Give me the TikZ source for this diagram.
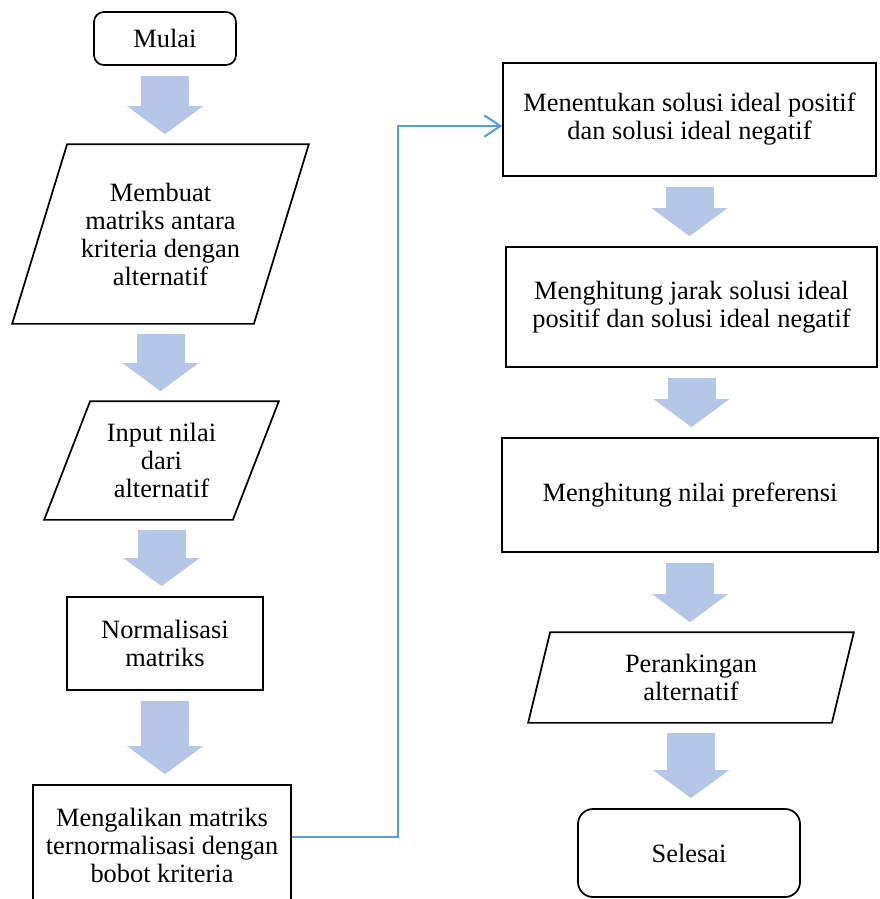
\documentclass[tikz,border=0pt]{standalone}
\usepackage{fontspec}
\setmainfont{Liberation Serif}
\usepackage{tikz}
\usetikzlibrary{positioning}
\usetikzlibrary{arrows.meta,calc}
\definecolor{arrowblue}{RGB}{180,199,231}
\definecolor{linkblue}{RGB}{91,155,213}
\newcommand{\boxfont}[1]{\fontsize{19.8}{#1}\selectfont\setlength{\lineskiplimit}{-20pt}\relax}
\tikzstyle{box}=[draw,line width=1.3pt,align=center,inner sep=0pt,font=\boxfont{21pt}]
\tikzstyle{terminal}=[box,rounded corners=7.5pt]
\tikzstyle{iobox}=[box,draw=none]
\tikzstyle{outline}=[draw,line width=1.3pt,line join=miter]
\tikzstyle{flow}=[draw=arrowblue,line width=36pt,shorten <=7.5pt,shorten >=7.5pt,-{Triangle[width=57pt,length=21pt,line width=0pt]}]
\tikzstyle{link} = [draw=linkblue,line width=1.5pt,-{Straight Barb[length=12pt,width=16pt,line width=1.5pt]}]

\begin{document}
\begin{tikzpicture}[x=0.75pt,y=-0.75pt]
    \useasboundingbox (0,0) rectangle (880,899);

    % kolom kiri
    \node[terminal,minimum width=106.5pt,minimum height=39.75pt] (mulai) at (165,38.5) {Mulai};
    \node[iobox,minimum width=221.25pt,minimum height=133.5pt] (buat) at (160.5,234)
        {Membuat\\ matriks antara\\ kriteria dengan\\ alternatif};
    \node[iobox,minimum width=174.75pt,minimum height=87.75pt] (input) at (161.5,460.5) {Input nilai\\ dari\\ alternatif};
    \node[box,minimum width=147pt,minimum height=69.75pt] (norm) at (165,643.5) {Normalisasi\\ matriks};
    \node[box,minimum width=193.5pt,minimum height=90pt] (kali) at (162,845)
        {Mengalikan matriks\\ ternormalisasi dengan\\ bobot kriteria};

    % kolom kanan
    \node[box,minimum width=279.75pt,minimum height=84.75pt] (tentu) at (689.5,119.5)
        {Menentukan solusi ideal positif\\ dan solusi ideal negatif};
    \node[box,minimum width=278.25pt,minimum height=90pt] (jarak) at (691.5,307)
        {Menghitung jarak solusi ideal\\ positif dan solusi ideal negatif};
    \node[box,minimum width=282pt,minimum height=85.5pt] (pref) at (690,495) {Menghitung nilai preferensi};
    \node[iobox,minimum width=243pt,minimum height=66.75pt] (rank) at (691,677.5) {Perankingan\\ alternatif};
    \node[terminal,rounded corners=11.25pt,minimum width=166.5pt,minimum height=66pt] (selesai) at (689,853) {Selesai};

    \foreach \n/\s in {buat/41.25pt, input/34.5pt, rank/16.5pt}
        \path[outline] ([xshift=\s]\n.north west) -- (\n.north east) -- ([xshift=-\s]\n.south east) -- (\n.south west) -- cycle;

    \foreach \source/\dest in {mulai/buat, buat/input, input/norm, norm/kali, tentu/jarak, jarak/pref, pref/rank, rank/selesai}
        \path[flow] (\source.south) -- (\source.south |- \dest.north);

    \coordinate (bend) at (398,126);
    \path[link] ([yshift=6pt]kali.east) -| (bend) -- (tentu.west |- bend);

\end{tikzpicture}
\end{document}
